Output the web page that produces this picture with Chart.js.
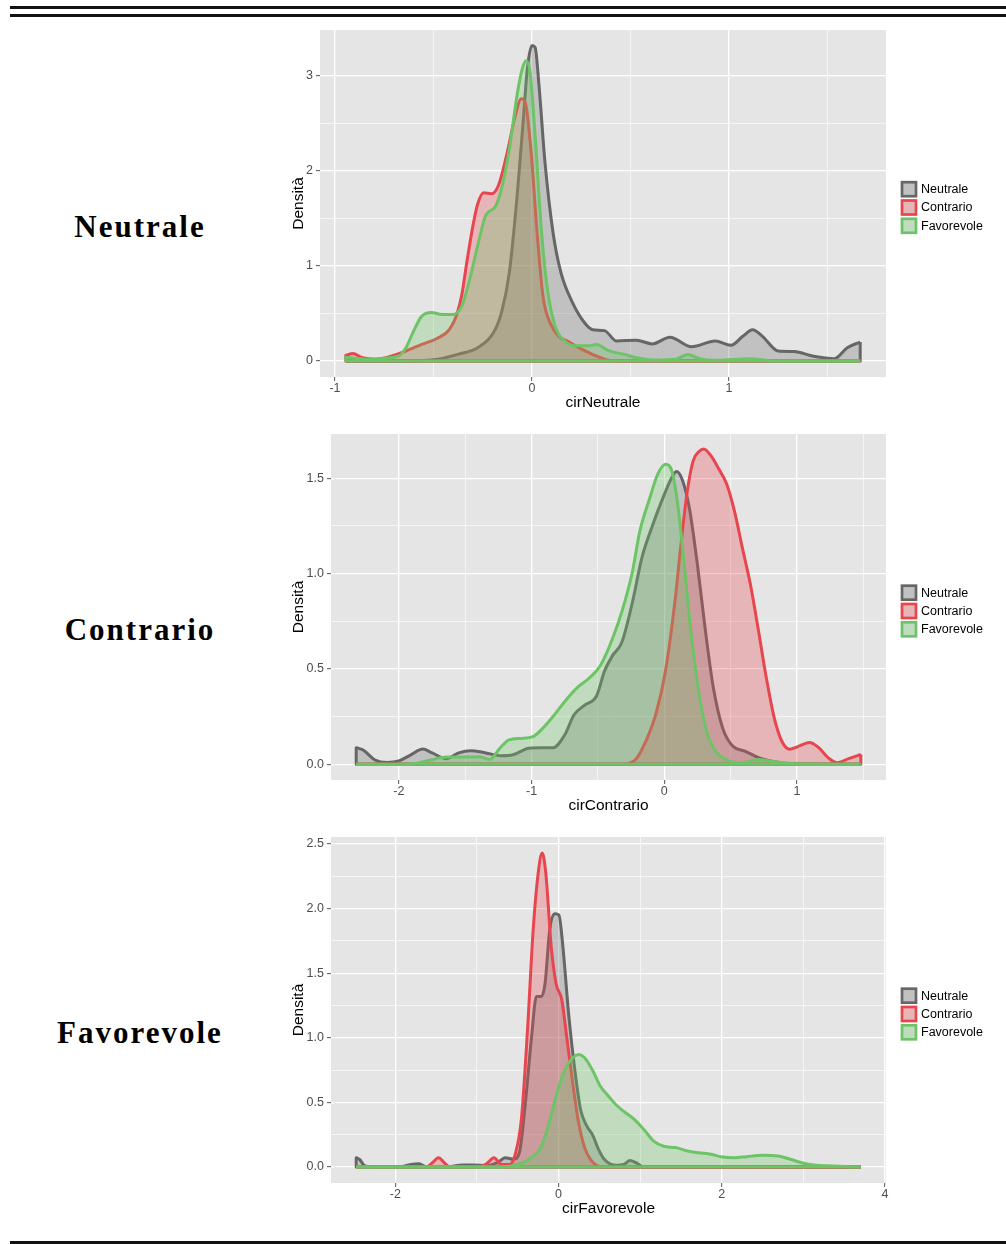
<!doctype html>
<html>
<head>
<meta charset="utf-8">
<title>Densità per gruppo</title>
<script src="https://cdn.jsdelivr.net/npm/chart.js@4.4.0/dist/chart.umd.min.js"></script>
<style>
  body { margin: 0; background: #fff; }
  #page { position: relative; width: 1006px; height: 1244px; overflow: hidden; }
  .rule { position: absolute; left: 10px; right: 0; height: 2.5px; background: #111; }
  .name { position: absolute; left: 20px; width: 240px; text-align: center; color: #000;
          font: bold 31px "Liberation Serif", "Times New Roman", serif; letter-spacing: 2px; line-height: 31px; }
  .panel { position: absolute; left: 280px; }
</style>
<script>
// gruppi (legenda) e stili
var groups = ['Neutrale', 'Contrario', 'Favorevole'];
var lineColors = ['#666666', '#E8464E', '#6CC466'];
var fillColors = ['rgba(110,110,110,0.3)', 'rgba(232,70,78,0.3)', 'rgba(108,196,102,0.3)'];

// ---- pannello 1: cirNeutrale ----
var p1Range = [-0.945, 1.666];
var p1NeutraleX = [-0.945, -0.7, -0.55, -0.477, -0.376, -0.276, -0.195, -0.155, -0.115, -0.074, -0.044, -0.024, 0, 0.016, 0.036, 0.066, 0.107, 0.147, 0.207, 0.268, 0.308, 0.368, 0.43, 0.53, 0.61, 0.70, 0.81, 0.93, 1.01, 1.07, 1.12, 1.17, 1.25, 1.33, 1.43, 1.535, 1.60, 1.666];
var p1NeutraleY = [0, 0, 0.005, 0.02, 0.07, 0.14, 0.30, 0.51, 0.93, 1.77, 2.54, 3.07, 3.32, 3.30, 2.89, 2.09, 1.35, 0.93, 0.61, 0.40, 0.33, 0.32, 0.21, 0.22, 0.18, 0.25, 0.15, 0.21, 0.165, 0.26, 0.33, 0.26, 0.105, 0.10, 0.05, 0.025, 0.14, 0.20];
var p1ContrarioX = [-0.945, -0.91, -0.86, -0.80, -0.74, -0.64, -0.56, -0.48, -0.42, -0.38, -0.356, -0.33, -0.30, -0.276, -0.245, -0.205, -0.17, -0.125, -0.085, -0.054, -0.034, -0.004, 0.026, 0.056, 0.097, 0.137, 0.187, 0.247, 0.308, 0.368, 0.43, 1.666];
var p1ContrarioY = [0.06, 0.08, 0.035, 0.02, 0.035, 0.105, 0.175, 0.24, 0.33, 0.50, 0.70, 1.05, 1.42, 1.65, 1.77, 1.76, 1.85, 2.20, 2.58, 2.76, 2.72, 2.19, 1.35, 0.68, 0.38, 0.26, 0.20, 0.13, 0.07, 0.02, 0, 0];
var p1FavorevoleX = [-0.945, -0.84, -0.68, -0.64, -0.60, -0.56, -0.51, -0.457, -0.40, -0.356, -0.316, -0.276, -0.235, -0.185, -0.155, -0.115, -0.074, -0.05, -0.03, -0.01, 0.016, 0.046, 0.076, 0.117, 0.167, 0.227, 0.288, 0.328, 0.388, 0.469, 0.53, 0.63, 0.73, 0.79, 0.85, 0.93, 1.11, 1.23, 1.666];
var p1FavorevoleY = [0.04, 0.02, 0.05, 0.14, 0.32, 0.47, 0.51, 0.49, 0.49, 0.58, 0.86, 1.21, 1.53, 1.63, 1.81, 2.23, 2.82, 3.07, 3.16, 3.04, 2.37, 1.42, 0.79, 0.37, 0.21, 0.16, 0.16, 0.175, 0.11, 0.07, 0.035, 0.01, 0.018, 0.07, 0.025, 0.007, 0.025, 0, 0];
var p1XMajor = [-1, 0, 1], p1XLabels = ['-1', '0', '1'], p1XMinor = [-0.5, 0.5, 1.5];
var p1YMajor = [0, 1, 2, 3], p1YLabels = ['0', '1', '2', '3'], p1YMinor = [0.5, 1.5, 2.5];

// ---- pannello 2: cirContrario ----
var p2Range = [-2.322, 1.481];
var p2NeutraleX = [-2.322, -2.27, -2.18, -2.09, -2.0, -1.91, -1.82, -1.75, -1.64, -1.55, -1.46, -1.345, -1.23, -1.14, -1.02, -0.93, -0.84, -0.75, -0.68, -0.60, -0.51, -0.45, -0.39, -0.32, -0.24, -0.17, -0.095, -0.02, 0.054, 0.092, 0.137, 0.19, 0.25, 0.31, 0.37, 0.44, 0.51, 0.62, 0.71, 0.83, 0.98, 1.481];
var p2NeutraleY = [0.087, 0.075, 0.023, 0.01, 0.018, 0.05, 0.08, 0.06, 0.03, 0.06, 0.072, 0.06, 0.045, 0.05, 0.085, 0.087, 0.087, 0.155, 0.26, 0.31, 0.36, 0.49, 0.57, 0.64, 0.85, 1.08, 1.24, 1.38, 1.50, 1.535, 1.49, 1.34, 1.045, 0.70, 0.40, 0.19, 0.10, 0.066, 0.035, 0.014, 0.003, 0];
var p2ContrarioX = [-2.322, -0.30, -0.27, -0.21, -0.14, -0.065, 0.009, 0.083, 0.128, 0.173, 0.217, 0.262, 0.298, 0.35, 0.41, 0.47, 0.53, 0.59, 0.65, 0.71, 0.77, 0.83, 0.887, 0.946, 1.006, 1.095, 1.155, 1.244, 1.30, 1.39, 1.481];
var p2ContrarioY = [0, 0, 0.005, 0.03, 0.12, 0.26, 0.49, 0.87, 1.17, 1.43, 1.59, 1.64, 1.654, 1.62, 1.55, 1.47, 1.325, 1.13, 0.94, 0.70, 0.45, 0.24, 0.12, 0.079, 0.093, 0.115, 0.093, 0.03, 0.009, 0.03, 0.052];
var p2FavorevoleX = [-2.322, -2.0, -1.88, -1.76, -1.64, -1.49, -1.40, -1.315, -1.24, -1.17, -1.08, -0.99, -0.915, -0.84, -0.75, -0.66, -0.57, -0.48, -0.39, -0.32, -0.24, -0.185, -0.11, -0.05, 0.009, 0.054, 0.098, 0.143, 0.20, 0.26, 0.32, 0.38, 0.47, 0.59, 0.71, 0.83, 0.98, 1.481];
var p2FavorevoleY = [0, 0, 0.005, 0.023, 0.038, 0.038, 0.04, 0.026, 0.084, 0.128, 0.136, 0.145, 0.19, 0.25, 0.33, 0.40, 0.45, 0.52, 0.66, 0.80, 1.01, 1.22, 1.395, 1.52, 1.573, 1.545, 1.38, 1.10, 0.70, 0.38, 0.17, 0.075, 0.023, 0.009, 0.026, 0.014, 0.003, 0];
var p2XMajor = [-2, -1, 0, 1], p2XLabels = ['-2', '-1', '0', '1'], p2XMinor = [-1.5, -0.5, 0.5, 1.5];
var p2YMajor = [0, 0.5, 1, 1.5], p2YLabels = ['0.0', '0.5', '1.0', '1.5'], p2YMinor = [0.25, 0.75, 1.25];

// ---- pannello 3: cirFavorevole ----
var p3Range = [-2.479, 3.704];
var p3NeutraleX = [-2.479, -2.44, -2.37, -2.2, -1.96, -1.81, -1.71, -1.62, -1.375, -1.18, -1.04, -0.89, -0.75, -0.65, -0.55, -0.48, -0.41, -0.33, -0.27, -0.21, -0.165, -0.107, -0.044, 0.005, 0.053, 0.126, 0.20, 0.27, 0.344, 0.416, 0.49, 0.56, 0.707, 0.80, 0.876, 0.95, 1.046, 3.704];
var p3NeutraleY = [0.072, 0.06, 0.008, 0, 0, 0.02, 0.025, 0, 0, 0.015, 0.015, 0.01, 0.033, 0.072, 0.06, 0.11, 0.47, 1.01, 1.32, 1.32, 1.42, 1.84, 1.96, 1.95, 1.71, 1.17, 0.75, 0.445, 0.32, 0.25, 0.136, 0.06, 0.013, 0.02, 0.05, 0.033, 0, 0];
var p3ContrarioX = [-2.479, -1.62, -1.545, -1.47, -1.40, -1.33, -0.99, -0.89, -0.79, -0.70, -0.60, -0.53, -0.455, -0.38, -0.31, -0.25, -0.2, -0.155, -0.09, -0.03, 0.04, 0.10, 0.174, 0.247, 0.32, 0.39, 0.465, 0.54, 3.704];
var p3ContrarioY = [0, 0, 0.033, 0.072, 0.033, 0, 0, 0.02, 0.072, 0.02, 0.02, 0.1, 0.37, 1.06, 1.84, 2.27, 2.43, 2.27, 1.71, 1.42, 1.295, 1.01, 0.65, 0.34, 0.15, 0.06, 0.013, 0, 0];
var p3FavorevoleX = [-2.479, -0.70, -0.50, -0.36, -0.21, -0.116, -0.02, 0.077, 0.174, 0.247, 0.32, 0.416, 0.513, 0.61, 0.707, 0.80, 0.925, 1.046, 1.167, 1.29, 1.433, 1.58, 1.72, 1.87, 2.01, 2.16, 2.305, 2.50, 2.69, 2.84, 2.98, 3.13, 3.37, 3.704];
var p3FavorevoleY = [0, 0, 0.02, 0.06, 0.16, 0.34, 0.57, 0.75, 0.845, 0.87, 0.845, 0.75, 0.625, 0.55, 0.48, 0.43, 0.37, 0.29, 0.20, 0.16, 0.15, 0.124, 0.11, 0.098, 0.077, 0.072, 0.08, 0.09, 0.085, 0.06, 0.033, 0.015, 0.008, 0];
var p3XMajor = [-2, 0, 2, 4], p3XLabels = ['-2', '0', '2', '4'], p3XMinor = [-1, 1, 3];
var p3YMajor = [0, 0.5, 1, 1.5, 2, 2.5], p3YLabels = ['0.0', '0.5', '1.0', '1.5', '2.0', '2.5'], p3YMinor = [0.25, 0.75, 1.25, 1.75, 2.25];

Chart.defaults.font.family = '"Liberation Sans", Arial, sans-serif';

function findMajor(v, list) {
  for (var i = 0; i < list.length; i++) if (Math.abs(list[i] - v) < 1e-6) return i;
  return -1;
}

// sfondo grigio del pannello (stile ggplot)
var panelBg = {
  id: 'panelBg',
  beforeDraw: function (chart) {
    var a = chart.chartArea, c = chart.ctx;
    c.save();
    c.fillStyle = '#E5E5E5';
    c.fillRect(a.left, a.top, a.right - a.left, a.bottom - a.top);
    c.restore();
  }
};

// legenda a destra del pannello
var keyLegend = {
  id: 'keyLegend',
  afterDraw: function (chart) {
    var a = chart.chartArea, c = chart.ctx;
    var mid = (a.top + a.bottom) / 2 + 4;
    c.save();
    groups.forEach(function (g, i) {
      var cy = mid + (i - 1) * 18.3, x = a.right + 16, y = cy - 7;
      c.fillStyle = '#E5E5E5'; c.fillRect(x, y, 14, 14);
      c.fillStyle = fillColors[i]; c.fillRect(x, y, 14, 14);
      c.strokeStyle = lineColors[i]; c.lineWidth = 2.7; c.strokeRect(x, y, 14, 14);
      c.fillStyle = '#000';
      c.font = '12.5px "Liberation Sans", Arial, sans-serif';
      c.textAlign = 'left'; c.textBaseline = 'middle';
      c.fillText(g, x + 19, cy + 0.5);
    });
    c.restore();
  }
};

function buildDatasets(xsList, ysList) {
  var sets = [];
  groups.forEach(function (g, i) {
    var xs = xsList[i], ys = ysList[i];
    var pts = xs.map(function (x, k) { return {x: x, y: ys[k]}; });
    var last = xs.length - 1;
    // curva di densità con area
    sets.push({
      label: g, data: pts, borderColor: lineColors[i], backgroundColor: fillColors[i],
      fill: 'origin', borderWidth: 3, pointRadius: 0, cubicInterpolationMode: 'monotone',
      borderJoinStyle: 'round', order: 3 - i
    });
    // bordo: lati verticali e linea di base
    sets.push({
      label: g, data: [{x: xs[0], y: ys[0]}, {x: xs[0], y: 0}, {x: xs[last], y: 0}, {x: xs[last], y: ys[last]}],
      borderColor: lineColors[i], fill: false, borderWidth: 3, pointRadius: 0, tension: 0,
      borderJoinStyle: 'round', order: 3 - i
    });
  });
  return sets;
}

function axis(min, max, major, labels, minor, fitFn, titleText, titlePad, tickPad) {
  var vals = major.concat(minor).sort(function (a, b) { return a - b; });
  return {
    type: 'linear', min: min, max: max,
    afterBuildTicks: function (s) { s.ticks = vals.map(function (v) { return {value: v}; }); },
    afterFit: fitFn,
    ticks: {
      autoSkip: false, maxRotation: 0, padding: tickPad, color: '#4D4D4D', font: {size: 12.5},
      callback: function (v) { var k = findMajor(v, major); return k >= 0 ? labels[k] : ''; }
    },
    grid: {
      color: '#FFFFFF',
      lineWidth: function (ctx) { return ctx.tick && findMajor(ctx.tick.value, major) >= 0 ? 1.3 : 0.6; },
      tickColor: function (ctx) { return ctx.tick && findMajor(ctx.tick.value, major) >= 0 ? '#555555' : 'rgba(0,0,0,0)'; },
      tickLength: 4, tickWidth: 1, drawTicks: true
    },
    border: {display: false},
    title: {display: true, text: titleText, color: '#000', font: {size: 15.5}, padding: titlePad}
  };
}

function drawPanel(id, yWidth, xr, yr, xMajor, xLabels, xMinor, yMajor, yLabels, yMinor, xTitle, xsList, ysList) {
  new Chart(document.getElementById(id).getContext('2d'), {
    type: 'line',
    data: {datasets: buildDatasets(xsList, ysList)},
    options: {
      responsive: false, animation: false, events: [],
      layout: {padding: {left: 0, right: 120, top: 12, bottom: 0}},
      plugins: {legend: {display: false}, tooltip: {enabled: false}},
      scales: {
        x: axis(xr[0], xr[1], xMajor, xLabels, xMinor, function (s) { s.height = 36; }, xTitle, {top: 0, bottom: 1}, 0),
        y: axis(yr[0], yr[1], yMajor, yLabels, yMinor, function (s) { s.width = yWidth; }, 'Densità', {top: 9, bottom: 0}, 3)
      }
    },
    plugins: [panelBg, keyLegend]
  });
}

function drawAll() {
  drawPanel('c1', 40, [-1.076, 1.797], [-0.168, 3.484], p1XMajor, p1XLabels, p1XMinor, p1YMajor, p1YLabels, p1YMinor,
    'cirNeutrale', [p1NeutraleX, p1ContrarioX, p1FavorevoleX], [p1NeutraleY, p1ContrarioY, p1FavorevoleY]);
  drawPanel('c2', 51, [-2.512, 1.671], [-0.082, 1.732], p2XMajor, p2XLabels, p2XMinor, p2YMajor, p2YLabels, p2YMinor,
    'cirContrario', [p2NeutraleX, p2ContrarioX, p2FavorevoleX], [p2NeutraleY, p2ContrarioY, p2FavorevoleY]);
  drawPanel('c3', 51, [-2.788, 4.013], [-0.124, 2.554], p3XMajor, p3XLabels, p3XMinor, p3YMajor, p3YLabels, p3YMinor,
    'cirFavorevole', [p3NeutraleX, p3ContrarioX, p3FavorevoleX], [p3NeutraleY, p3ContrarioY, p3FavorevoleY]);
}
window.addEventListener('load', drawAll);
</script>
</head>
<body>
<div id="page">
  <div class="rule" style="top:6px"></div>
  <div class="rule" style="top:14px"></div>

  <div class="name" style="top:211px">Neutrale</div>
  <canvas class="panel" id="c1" width="726" height="395" style="top:18px"></canvas>

  <div class="name" style="top:614px">Contrario</div>
  <canvas class="panel" id="c2" width="726" height="394" style="top:422px"></canvas>

  <div class="name" style="top:1017px">Favorevole</div>
  <canvas class="panel" id="c3" width="726" height="394" style="top:825px"></canvas>

  <div class="rule" style="top:1241px"></div>
</div>
</body>
</html>
